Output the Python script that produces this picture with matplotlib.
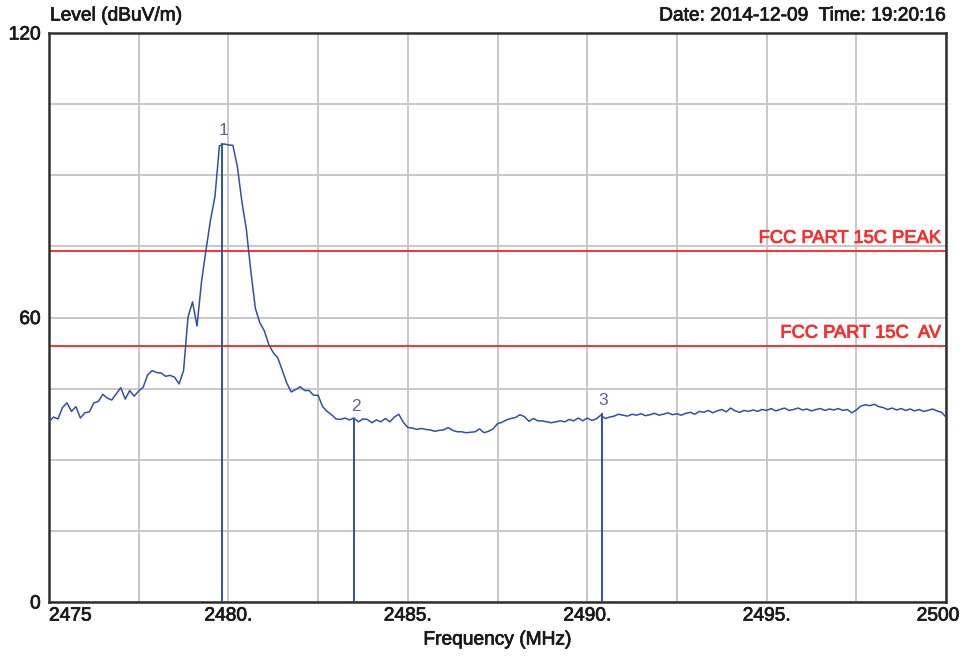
import numpy as np
import matplotlib.pyplot as plt
import matplotlib.patheffects as pe
from matplotlib.transforms import ScaledTranslation

plt.rcParams['font.family'] = ['Liberation Sans', 'DejaVu Sans']

# sweep: 2475 - 2500 MHz, 0.125 MHz per point
f_start = 2475.0
f_step = 0.125
level = [
    38.0, 39.0, 38.6, 41.0, 42.0, 40.2, 41.2, 38.8, 39.9, 40.1,
    42.0, 42.3, 43.8, 43.0, 42.6, 43.9, 45.2, 42.8, 44.6, 43.4,
    44.5, 45.3, 47.9, 48.8, 48.4, 48.3, 47.6, 47.8, 47.4, 46.0,
    48.8, 60.1, 63.3, 58.2, 67.5, 74.2, 80.5, 85.5, 96.2, 96.6,
    96.4, 96.3, 91.8, 84.5, 78.6, 69.8, 62.0, 58.9, 57.2, 54.3,
    52.6, 51.5, 48.9, 46.2, 44.3, 44.8, 45.4, 44.6, 44.6, 43.6,
    43.6, 41.2, 40.2, 39.5, 38.6, 38.5, 38.8, 38.4, 38.8, 38.0,
    38.6, 38.5, 37.8, 38.4, 38.0, 38.7, 38.0, 39.0, 39.6, 37.9,
    36.8, 36.7, 36.4, 36.6, 36.4, 36.3, 36.0, 36.2, 36.3, 36.8,
    36.2, 35.9, 35.9, 35.7, 35.8, 35.9, 36.5, 35.7, 36.0, 36.5,
    37.6, 37.9, 38.4, 38.7, 38.9, 39.5, 39.1, 38.1, 38.7, 38.2,
    38.2, 38.0, 37.8, 38.0, 38.2, 38.0, 38.5, 38.2, 38.8, 38.2,
    38.8, 38.3, 38.6, 39.4, 38.7, 39.0, 39.2, 39.6, 39.4, 39.2,
    39.6, 39.4, 39.7, 39.3, 39.5, 39.8, 39.4, 39.6, 39.9, 39.5,
    39.7, 39.4, 39.8, 40.0, 39.6, 40.2, 40.0, 40.4, 39.9, 40.3,
    40.6, 40.1, 40.9, 40.3, 40.0, 40.4, 40.2, 40.5, 40.2, 40.6,
    40.4, 40.8, 40.3, 40.6, 40.9, 40.4, 40.6, 40.9, 40.5, 40.7,
    40.3, 40.6, 40.8, 40.4, 40.7, 40.5, 40.8, 40.4, 40.6, 39.9,
    40.5, 41.3, 41.6, 41.4, 41.7, 41.2, 41.0, 40.6, 40.9, 40.5,
    40.8, 40.4, 40.7, 40.3, 40.6, 40.2, 40.4, 40.7, 40.3, 40.0,
    39.0,
]
freq = f_start + f_step * np.arange(len(level))

# markers
marker_freq = [2479.82, 2483.5, 2490.4]
marker_level = [96.8, 38.6, 39.9]
marker_name = ["1", "2", "3"]

# limit lines
limit_level = [74, 54]
limit_name = ["FCC PART 15C PEAK", "FCC PART 15C  AV"]

x_ticks = np.arange(2475, 2500.1, 2.5)
x_labels = ["2475", "", "2480.", "", "2485.", "", "2490.", "", "2495.", "", "2500"]
y_ticks = np.arange(0, 121, 15)
y_labels = ["0", "", "", "", "60", "", "", "", "120"]

trace_col = "#3050a8"
text_col = "#1a1a1a"


def heavy(col):
    # thicken glyphs a little
    return [pe.withStroke(linewidth=0.55, foreground=col)]


fig = plt.figure(figsize=(9.69, 6.57), dpi=100)
ax = fig.add_axes([49 / 969, 55 / 657, 897 / 969, 569 / 657])

ax.plot(freq, level, color=trace_col, lw=1.1, zorder=3)

for lv, name in zip(limit_level, limit_name):
    ax.axhline(lv, color="#ff2020", lw=1.3, zorder=2)
    ax.text(2499.85, lv + 0.9, name, color="#ff2a2a", fontsize=13.2,
            ha="right", va="bottom", zorder=4, path_effects=heavy("#ff2a2a"))

for mf, ml, mn in zip(marker_freq, marker_level, marker_name):
    ax.vlines(mf, 0, ml, color=trace_col, lw=1.4, zorder=3)
    ax.text(mf + 0.05, ml + 1.0, mn, color="#6a5aa0", fontsize=12.5,
            ha="center", va="bottom", zorder=4)

ax.set_xlim(2475, 2500)
ax.set_ylim(0, 120)
ax.set_xticks(x_ticks)
ax.set_xticklabels(x_labels)
ax.set_yticks(y_ticks)
ax.set_yticklabels(y_labels)
ax.tick_params(length=0, labelsize=13.8, labelcolor=text_col)
ax.tick_params(axis="x", pad=4)
ax.tick_params(axis="y", pad=6)

for t in ax.get_xticklabels() + ax.get_yticklabels():
    t.set_path_effects(heavy(text_col))
xl = ax.get_xticklabels()
xl[0].set_ha("left")
xl[-1].set_transform(xl[-1].get_transform() + ScaledTranslation(-8 / 100, 0, fig.dpi_scale_trans))

ax.grid(True, color="#c8c8c8", lw=1.4)
ax.set_axisbelow(True)
for s in ax.spines.values():
    s.set_color("#303030")
    s.set_linewidth(1.8)

ax.set_xlabel("Frequency (MHz)", fontsize=13.8, color=text_col, labelpad=5,
              path_effects=heavy(text_col))
fig.text(50 / 969, 1 - 16 / 657, "Level (dBuV/m)", fontsize=13.8, color=text_col,
         ha="left", va="center", path_effects=heavy(text_col))
fig.text(945 / 969, 1 - 16 / 657, "Date: 2014-12-09  Time: 19:20:16", fontsize=13.8,
         color=text_col, ha="right", va="center", path_effects=heavy(text_col))

fig.savefig("out.png", dpi=100, facecolor="white")
